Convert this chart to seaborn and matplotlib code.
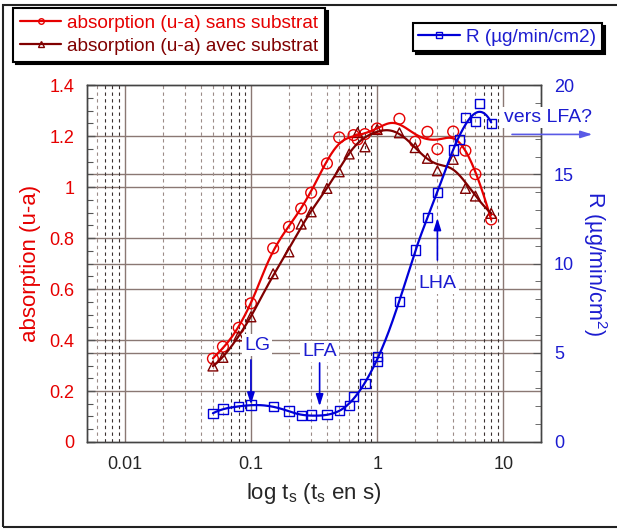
import matplotlib
matplotlib.use('Agg')
import matplotlib.pyplot as plt
import matplotlib.ticker as mticker
from matplotlib.lines import Line2D
from matplotlib.patches import Rectangle
import seaborn as sns
import numpy as np
import pandas as pd

# absorption sans substrat (circles)
t_sans = [0.05, 0.06, 0.08, 0.1, 0.15, 0.2, 0.25, 0.3, 0.4, 0.5, 0.65, 0.7, 0.8, 1.0, 1.5, 2, 2.5, 3, 4, 5, 6, 8]
abs_sans = [0.327, 0.374, 0.448, 0.544, 0.76, 0.844, 0.916, 0.978, 1.093, 1.195, 1.204, 1.187, 1.208, 1.23, 1.268, 1.178, 1.217, 1.149, 1.218, 1.143, 1.051, 0.873]

# absorption avec substrat (triangles)
t_avec = [0.05, 0.06, 0.08, 0.1, 0.15, 0.2, 0.25, 0.3, 0.4, 0.5, 0.6, 0.7, 0.8, 1.0, 1.5, 2, 2.5, 3, 4, 5, 6, 8]
abs_avec = [0.298, 0.332, 0.416, 0.491, 0.66, 0.746, 0.855, 0.903, 0.995, 1.06, 1.13, 1.214, 1.158, 1.226, 1.213, 1.155, 1.113, 1.064, 1.109, 0.995, 0.965, 0.897]

# R (squares)
t_r = [0.05, 0.06, 0.08, 0.1, 0.15, 0.2, 0.25, 0.3, 0.4, 0.5, 0.6, 0.65, 0.8, 1.0, 1.0, 1.5, 2, 2.5, 3, 4, 4.5, 5, 6, 6.5, 8]
r_vals = [1.61, 1.85, 1.98, 2.07, 1.98, 1.74, 1.49, 1.51, 1.53, 1.77, 2.03, 2.54, 3.29, 4.78, 4.5, 7.86, 10.76, 12.57, 13.97, 16.36, 16.96, 18.17, 17.96, 18.97, 17.87]

RED = '#e60000'
BROWN = '#800000'
BLUE = '#0000d8'
TXTBLUE = '#1c1cd0'
GRID = '#8a7873'


def smooth_curve(x, y, bw=0.09, n=300):
    # local quadratic fit in log10(x)
    lx = np.log10(np.asarray(x, float))
    y = np.asarray(y, float)
    grid = np.linspace(lx.min(), lx.max(), n)
    out = []
    for g in grid:
        d = lx - g
        w = np.sqrt(np.exp(-0.5 * (d / bw) ** 2))
        A = np.vstack([np.ones_like(d), d, d ** 2]).T
        coef = np.linalg.lstsq(A * w[:, None], y * w, rcond=None)[0]
        out.append(coef[0])
    return pd.DataFrame({'t': 10 ** grid, 'v': out})


sns.set_style('white')
plt.rcParams['font.family'] = ['Liberation Sans', 'DejaVu Sans']
plt.rcParams['mathtext.fontset'] = 'custom'
plt.rcParams['mathtext.rm'] = 'Liberation Sans'

fig = plt.figure(figsize=(6.17, 5.29), dpi=100)
ax1 = fig.add_axes([0.1405, 0.1645, 0.737, 0.6745])
ax1.set_xscale('log')
ax2 = ax1.twinx()

# grid
for k in range(1, 7):
    ax1.axhline(0.2 * k, color=GRID, lw=1, zorder=0)
for r in [5, 10, 15]:
    ax1.axhline(r * 1.4 / 20, color=GRID, lw=1, zorder=0)
for dec in [0.001, 0.01, 0.1, 1, 10]:
    ax1.axvline(dec, color=GRID, lw=1, zorder=0)
    for k in range(2, 10):
        c = '#9c8c88' if k < 7 else '#3a3030'
        ax1.axvline(dec * k, color=c, lw=0.8, ls=(0, (3, 3)), zorder=0)

df_sans = pd.DataFrame({'t': t_sans, 'v': abs_sans})
df_avec = pd.DataFrame({'t': t_avec, 'v': abs_avec})
df_r = pd.DataFrame({'t': t_r, 'v': r_vals})

sns.lineplot(data=smooth_curve(t_sans, abs_sans, 0.13), x='t', y='v', ax=ax1, color=RED, lw=1.6, sort=False, estimator=None)
sns.lineplot(data=smooth_curve(t_avec, abs_avec, 0.13), x='t', y='v', ax=ax1, color=BROWN, lw=1.6, sort=False, estimator=None)
sns.scatterplot(data=df_sans, x='t', y='v', ax=ax1, marker='o', s=60, color=RED, facecolor='none', edgecolor=RED, linewidth=1)
sns.scatterplot(data=df_avec, x='t', y='v', ax=ax1, marker='^', s=50, color=BROWN, facecolor='none', edgecolor=BROWN, linewidth=1)

sns.lineplot(data=smooth_curve(t_r, r_vals, 0.1), x='t', y='v', ax=ax2, color=BLUE, lw=1.6, sort=False, estimator=None)
sns.scatterplot(data=df_r, x='t', y='v', ax=ax2, marker='s', s=45, color=BLUE, facecolor='none', edgecolor=BLUE, linewidth=1)

ax1.set_xlim(0.005, 20)
ax1.set_ylim(0, 1.4)
ax2.set_ylim(0, 20)

# ticks
ax1.yaxis.set_major_locator(mticker.MultipleLocator(0.2))
ax1.yaxis.set_minor_locator(mticker.MultipleLocator(0.05))
ax1.yaxis.set_major_formatter(mticker.FuncFormatter(lambda v, p: '%g' % round(v, 2)))
ax2.yaxis.set_major_locator(mticker.MultipleLocator(5))
ax2.yaxis.set_minor_locator(mticker.MultipleLocator(1))
ax1.xaxis.set_major_locator(mticker.LogLocator(base=10))
ax1.xaxis.set_minor_locator(mticker.LogLocator(base=10, subs=np.arange(2, 10)))
ax1.xaxis.set_major_formatter(mticker.FuncFormatter(lambda v, p: '%g' % v))
ax1.xaxis.set_minor_formatter(mticker.NullFormatter())

ax1.tick_params(axis='both', which='both', direction='in', labelsize=13)
ax1.tick_params(which='major', length=6, width=1, color='#555555')
ax1.tick_params(which='minor', length=4, width=0.8, color='#555555')
ax1.tick_params(axis='y', labelcolor=RED, pad=9, right=False)
ax1.tick_params(axis='x', pad=10, top=False)
ax2.tick_params(axis='y', which='both', direction='in', labelsize=13, labelcolor=TXTBLUE, pad=9, color='#555555')
ax2.tick_params(axis='y', which='major', length=6)
ax2.tick_params(axis='y', which='minor', length=4)

for ax in (ax1, ax2):
    for s in ax.spines.values():
        s.set_color('#444444')
        s.set_linewidth(1)

ax1.set_xlabel(r'log t$_\mathregular{s}$ (t$_\mathregular{s}$ en s)', fontsize=16, labelpad=6)
ax1.set_ylabel('absorption (u-a)', fontsize=16, color=RED, labelpad=6)
ax2.set_ylabel(r'R (µg/min/cm$^\mathregular{2}$)', fontsize=15.5, color=TXTBLUE, rotation=270, labelpad=25)

# annotations
box = dict(facecolor='white', edgecolor='none', pad=1.5)
arrow = dict(arrowstyle='-|>,head_length=0.7,head_width=0.22', color=BLUE, lw=1.2, shrinkA=0, shrinkB=0)
ax2.text(0.112, 5.43, 'LG', fontsize=14, color=TXTBLUE, ha='center', va='center', bbox=box, zorder=6)
ax2.annotate('', xy=(0.1, 2.1), xytext=(0.1, 4.6), arrowprops=arrow, zorder=6)
ax2.text(0.35, 5.06, 'LFA', fontsize=14, color=TXTBLUE, ha='center', va='center', bbox=box, zorder=6)
ax2.annotate('', xy=(0.35, 2.0), xytext=(0.35, 4.43), arrowprops=arrow, zorder=6)
ax2.text(3.0, 8.9, 'LHA', fontsize=14, color=TXTBLUE, ha='center', va='center', bbox=box, zorder=6)
ax2.annotate('', xy=(3.0, 12.55), xytext=(3.0, 10.2), arrowprops=arrow, zorder=6)
ax2.text(22.5, 18.2, 'vers LFA?', fontsize=14, color=TXTBLUE, ha='center', va='center', bbox=box, zorder=6, clip_on=False)
ax2.annotate('', xy=(50.6, 17.24), xytext=(11.7, 17.24), annotation_clip=False,
             arrowprops=dict(arrowstyle='-|>,head_length=0.7,head_width=0.22', color='#5a5ae6', lw=1.2, shrinkA=0, shrinkB=0), zorder=6)

# legends
h1 = [Line2D([], [], color=RED, lw=1.6, marker='o', ms=4, mfc='none', mec=RED),
      Line2D([], [], color=BROWN, lw=1.6, marker='^', ms=4, mfc='none', mec=BROWN)]
leg1 = fig.legend(h1, ['absorption (u-a) sans substrat', 'absorption (u-a) avec substrat'],
                  loc='upper left', bbox_to_anchor=(0.021, 0.985), bbox_transform=fig.transFigure,
                  fontsize=13.7, frameon=True, fancybox=False, borderpad=0.35, labelspacing=0.3,
                  handlelength=2.2, handletextpad=0.3, borderaxespad=0,
                  shadow={'color': 'black', 'alpha': 1})
for txt, c in zip(leg1.get_texts(), [RED, BROWN]):
    txt.set_color(c)
leg1.get_frame().set_edgecolor('black')
leg1.get_frame().set_linewidth(1.5)

h2 = [Line2D([], [], color=BLUE, lw=1.6, marker='s', ms=4, mfc='none', mec=BLUE)]
leg2 = fig.legend(h2, ['R (µg/min/cm2)'], loc='upper left', bbox_to_anchor=(0.669, 0.957),
                  bbox_transform=fig.transFigure, fontsize=13.7, frameon=True, fancybox=False,
                  borderpad=0.3, handlelength=2.2, handletextpad=0.3, borderaxespad=0,
                  shadow={'color': 'black', 'alpha': 1})
leg2.get_texts()[0].set_color(TXTBLUE)
leg2.get_frame().set_edgecolor('black')
leg2.get_frame().set_linewidth(1.5)

fig.patches.append(Rectangle((0.005, 0.004), 1.2, 0.986, transform=fig.transFigure,
                             fill=False, edgecolor='#222222', lw=1.5))

fig.savefig('out.png', dpi=100)
